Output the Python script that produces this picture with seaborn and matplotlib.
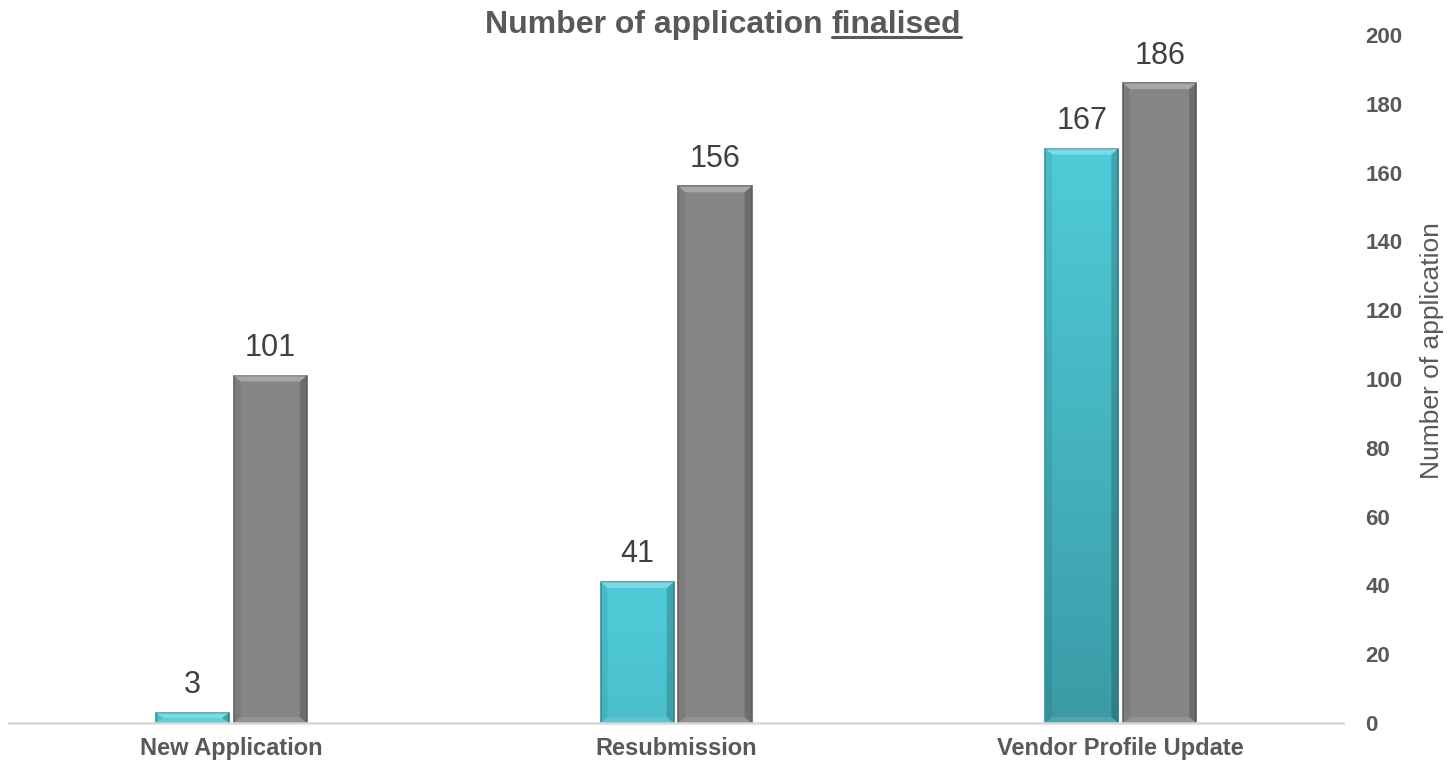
import numpy as np
import pandas as pd
import seaborn as sns
import matplotlib.pyplot as plt
from matplotlib.colors import to_rgb
from matplotlib.patches import Polygon

# %% data
categories = ['New Application', 'Resubmission', 'Vendor Profile Update']
series_names = ['Series 1', 'Series 2']
teal_values = [3, 41, 167]
gray_values = [101, 156, 186]
y_ticks = list(range(0, 201, 20))

df = pd.DataFrame({
    'category': categories * 2,
    'series': [series_names[0]] * len(categories) + [series_names[1]] * len(categories),
    'count': teal_values + gray_values,
})

# %% style
sns.set_style('white')
plt.rcParams['font.family'] = ['Liberation Sans', 'DejaVu Sans']
text_grey = '#595959'

fig = plt.figure(figsize=(14.54, 7.69), dpi=100)
ax = fig.add_axes([0.0062, 0.0598, 0.9175, 0.8947])

sns.barplot(data=df, x='category', y='count', hue='series',
            palette=['#47BFCC', '#868686'], width=0.35, gap=0.06,
            saturation=1, errorbar=None, legend=False, ax=ax)

ax.set_xlim(-0.5, len(categories) - 0.5)
ax.set_ylim(0, 200)

# %% teal bars: vertical shading, darker further down from the top
light = np.array(to_rgb('#4FCCD9'))
dark = np.array(to_rgb('#3A9BA5'))
full = max(teal_values)
for bar in ax.containers[0]:
    x0, w, h = bar.get_x(), bar.get_width(), bar.get_height()
    frac = np.linspace(0, h / full, 200)[:, None, None]
    grad = light + (dark - light) * frac
    im = ax.imshow(grad, extent=[x0, x0 + w, 0, h], aspect='auto',
                   zorder=bar.get_zorder() + 0.1, interpolation='bilinear')
    im.set_clip_path(bar)
    bar.set_facecolor('none')
    bar.set_zorder(bar.get_zorder() + 0.2)

ax.set_xlim(-0.5, len(categories) - 0.5)
ax.set_ylim(0, 200)

# %% bevel look: light top/bottom faces, darker sides
dx = 7 * (ax.get_xlim()[1] - ax.get_xlim()[0]) / ax.bbox.width
dy = 6 * (ax.get_ylim()[1] - ax.get_ylim()[0]) / ax.bbox.height
edge_cols = ['#3A98A2', '#666666']
for cont, ec in zip(ax.containers, edge_cols):
    for bar in cont:
        x0, w, h = bar.get_x(), bar.get_width(), bar.get_height()
        x1 = x0 + w
        d = min(dy, h / 2)
        z = bar.get_zorder() + 0.3
        faces = [
            ([(x0, h), (x1, h), (x1 - dx, h - d), (x0 + dx, h - d)], 'white', 0.28),
            ([(x0, 0), (x1, 0), (x1 - dx, d), (x0 + dx, d)], 'white', 0.10),
            ([(x0, 0), (x0 + dx, d), (x0 + dx, h - d), (x0, h)], 'black', 0.07),
            ([(x1, 0), (x1 - dx, d), (x1 - dx, h - d), (x1, h)], 'black', 0.18),
        ]
        for pts, col, a in faces:
            ax.add_patch(Polygon(pts, closed=True, facecolor=col, alpha=a,
                                 edgecolor='none', zorder=z))
        bar.set_edgecolor(ec)
        bar.set_linewidth(1.2)

# %% value labels
for cont in ax.containers:
    ax.bar_label(cont, padding=9, fontsize=22, color='#404040')

# %% axes
ax.yaxis.tick_right()
ax.set_yticks(y_ticks)
ax.tick_params(axis='y', length=0, pad=16, labelsize=16, labelcolor=text_grey)
ax.tick_params(axis='x', length=0, pad=10, labelsize=17, labelcolor=text_grey)
for lbl in ax.get_yticklabels() + ax.get_xticklabels():
    lbl.set_fontweight('bold')
ax.set_xlabel('')
ax.set_ylabel('Number of application', fontsize=19, color=text_grey)
ax.yaxis.set_label_position('right')
ax.yaxis.set_label_coords(1.067, 0.542)
ax.yaxis.label.set(rotation=90, va='center', ha='center')

sns.despine(ax=ax, left=True, right=True, top=True)
ax.spines['bottom'].set_color('#D9D9D9')
ax.spines['bottom'].set_linewidth(1.8)
ax.grid(False)

# %% title with underlined last word
W, H = fig.get_size_inches() * fig.dpi
ty = 1 - 33 / H
t1 = fig.text(485 / W, ty, 'Number of application ', fontsize=23,
              fontweight='bold', color=text_grey, va='baseline')
fig.canvas.draw()
b1 = t1.get_window_extent()
t2 = fig.text(b1.x1 / W, ty, 'finalised', fontsize=23,
              fontweight='bold', color=text_grey, va='baseline')
fig.canvas.draw()
b2 = t2.get_window_extent()
uy = ty - 4 / H
fig.add_artist(plt.Line2D([b2.x0 / W, b2.x1 / W], [uy, uy],
                          transform=fig.transFigure, color=text_grey, lw=2.2))

fig.savefig('out.png', dpi=100)
